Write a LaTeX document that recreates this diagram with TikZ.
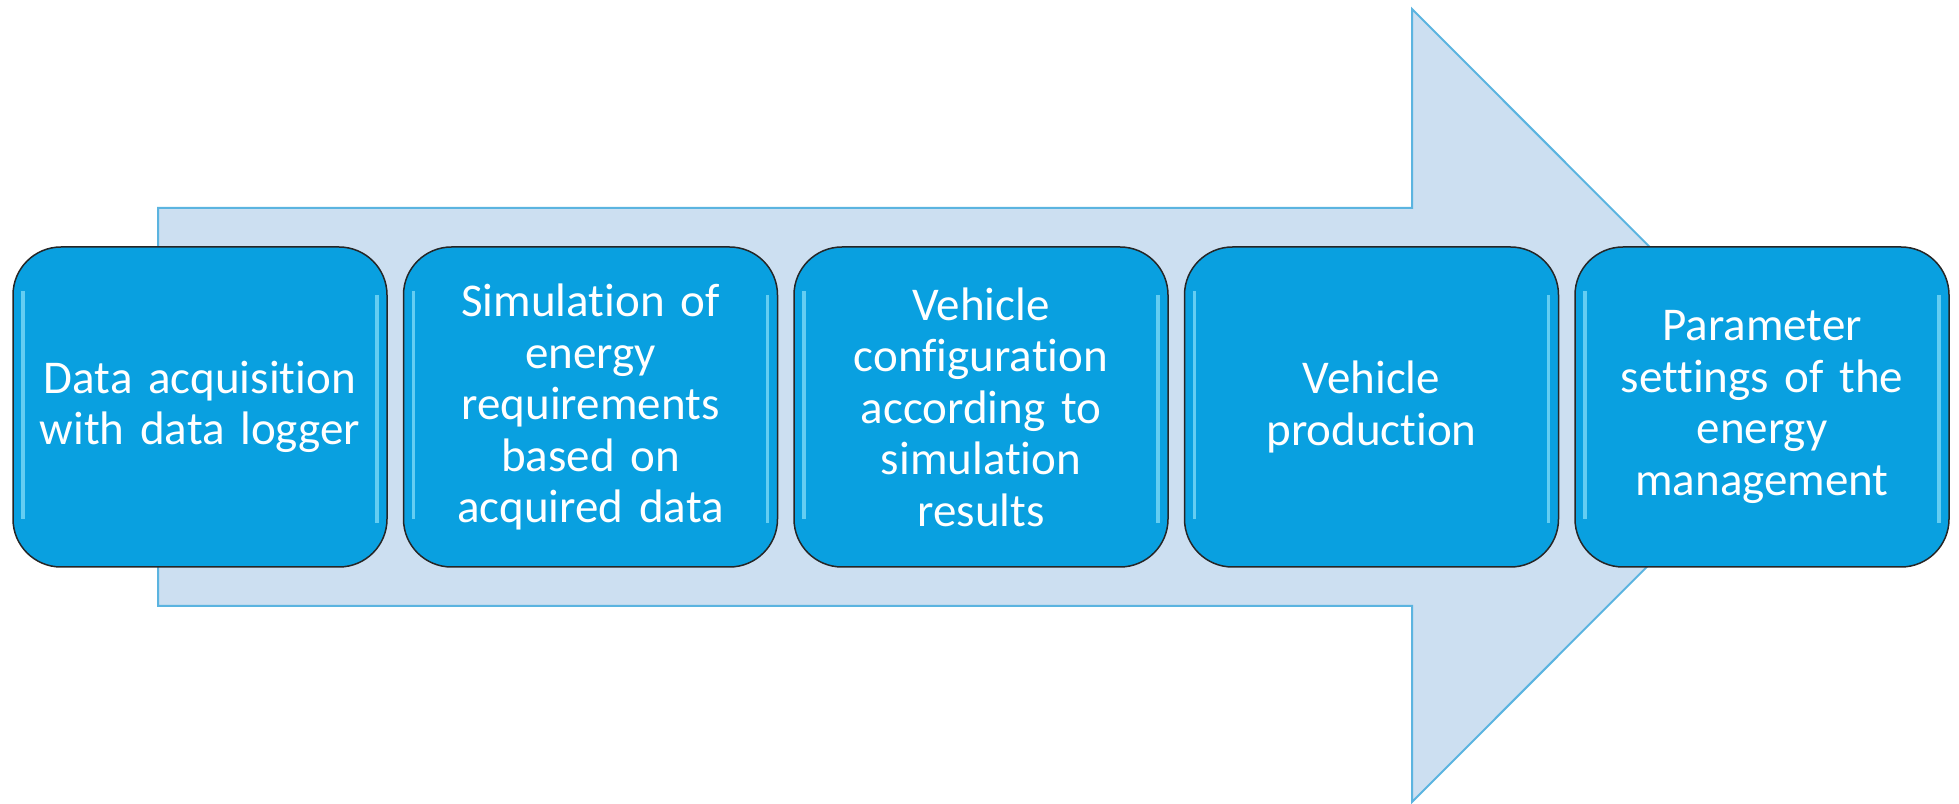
\documentclass[tikz,border=0pt]{standalone}
\usepackage{fontspec}
\setmainfont{Carlito}[Ligatures={NoCommon}]
\usetikzlibrary{positioning}

\definecolor{arrowfill}{RGB}{204,223,241}
\definecolor{arrowline}{RGB}{91,180,224}
\definecolor{boxfill}{RGB}{9,160,224}
\definecolor{boxglow}{RGB}{140,225,250}

\tikzset{
  stepbox/.style={draw=black!85, line width=0.75pt, fill=boxfill, rounded corners=24pt,
    minimum width=187pt, minimum height=160pt, text width=175pt, align=center,
    inner sep=0pt, text=white, font=\fontsize{23.5pt}{25.75pt}\selectfont,
    path picture={
      \draw [boxglow, line width=1.6pt, opacity=0.7]
        ([xshift=5pt, yshift=-22pt] path picture bounding box.north west) --
        ([xshift=5pt, yshift=24pt] path picture bounding box.south west);
      \draw [boxglow, line width=1.6pt, opacity=0.7]
        ([xshift=-5pt, yshift=-24pt] path picture bounding box.north east) --
        ([xshift=-5pt, yshift=22pt] path picture bounding box.south east);
    }},
  bigarrow/.style={draw=arrowline, fill=arrowfill, line width=1pt}
}

\begin{document}
\begin{tikzpicture}[x=0.5pt, y=0.5pt, node distance=7.5pt]
        \useasboundingbox (0,0) rectangle (1959,803);

        \draw [bigarrow] (158,595) -- (1412,595) -- (1412,794) -- (1808,397.5)
          -- (1412,1) -- (1412,197) -- (158,197) -- cycle;

        \node [stepbox] (acq) at (200,396) {Data acquisition\\with data logger};
        \node [stepbox, right=of acq] (sim) {Simulation of\\energy\\requirements\\based on\\acquired data};
        \node [stepbox, right=of sim] (config) {Vehicle\\configuration\\according to\\simulation\\results};
        \node [stepbox, right=of config] (prod) {Vehicle\\production};
        \node [stepbox, right=of prod] (param) {Parameter\\settings of the\\energy\\management};
      \end{tikzpicture}
\end{document}
